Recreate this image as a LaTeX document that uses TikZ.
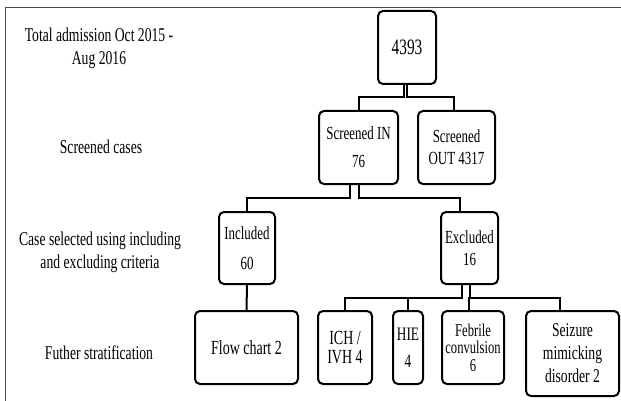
\documentclass[tikz,border=0pt]{standalone}
\usepackage{fontspec}
\setmainfont[FakeStretch=0.7]{Liberation Serif}
\usepackage{tikz}
\usetikzlibrary{positioning}
\tikzset{
	flownode/.style = {align=center, inner sep=0pt, text centered},
	fc_box/.style = {flownode, rectangle, rounded corners=5pt, draw=black,
		line width=2pt, minimum height=73pt,
		font=\fontsize{18.5}{21.7}\selectfont},% boite du schema
	fc_lbl/.style = {flownode, font=\fontsize{19.5}{23}\selectfont},% libelle a gauche
	fc_ln/.style = {line width=2pt}% trait de liaison
}

\begin{document}
\begin{tikzpicture}[x=1pt,y=-1pt]
\useasboundingbox (0,0) rectangle (621,401);
\draw[black!70, line width=1pt] (5,401) -- (5,7.5) -- (621,7.5);

% libelles
\node [fc_lbl] (l_tot) at (99,48) {Total admission Oct 2015 -\\Aug 2016};
\node [fc_lbl] (l_scr) at (101,147) {Screened cases};
\node [fc_lbl] (l_cas) at (100,252) {Case selected using including\\and excluding criteria};
\node [fc_lbl] (l_fut) at (99,353) {Futher stratification};

% boites
\node [fc_box, minimum width=58pt, font=\fontsize{22}{24}\selectfont] (tot) at (407,47.5) {4393};
\node [fc_box, minimum width=79pt] (sin) at (358.5,147.5) {Screened IN\\[6.6pt]76};
\node [fc_box, minimum width=77pt, right=18pt of sin] (sout) {Screened\\OUT 4317};
\node [fc_box, minimum width=56pt, minimum height=72pt] (inc) at (247,248) {Included\\[8.3pt]60};
\node [fc_box, minimum width=57pt, minimum height=72pt] (exc) at (469.5,248) {Excluded\\16};
\node [fc_box, minimum width=103pt, font=\fontsize{20}{22}\selectfont] (flow) at (246.5,347.5) {Flow chart 2};
\node [fc_box, minimum width=54pt, font=\fontsize{20}{18.5}\selectfont] (ich) at (345,347.5) {ICH /\\IVH 4};
\node [fc_box, minimum width=30pt, font=\fontsize{19}{20}\selectfont, right=19pt of ich] (hie) {HIE\\[6.7pt]4};
\node [fc_box, minimum width=62pt, font=\fontsize{18}{17.5}\selectfont, right=17pt of hie] (feb) {Febrile\\convulsion\\6};
\node [fc_box, minimum width=93pt, minimum height=85pt, font=\fontsize{19.5}{23}\selectfont] (sz) at (572.5,353.5) {Seizure\\mimicking\\disorder 2};

% liaisons
\draw [fc_ln] ([xshift=-3pt]tot.south) -- ++(0,12) -| (sin.north);
\draw [fc_ln] (tot.south) -- ++(0,12) -| ([xshift=-3pt]sout.north);
\draw [fc_ln] ([xshift=-9pt]sin.south) -- ++(0,13) -| (inc.north);
\draw [fc_ln] (sin.south) -- ++(0,13) -| ([xshift=-10pt]exc.north);
\draw [fc_ln] (inc.south) -- (flow.north);
\draw [fc_ln] ([xshift=-8pt]exc.south) -- ++(0,13) -| (ich.north);
\draw [fc_ln] ([xshift=-8pt]exc.south) -- ++(0,13) -| (hie.north);
\draw [fc_ln] (exc.south) -- ++(0,13) -| ([xshift=-4pt]feb.north);
\draw [fc_ln] (exc.south) -- ++(0,13) -| ([xshift=-13pt]sz.north);
\end{tikzpicture}
\end{document}
